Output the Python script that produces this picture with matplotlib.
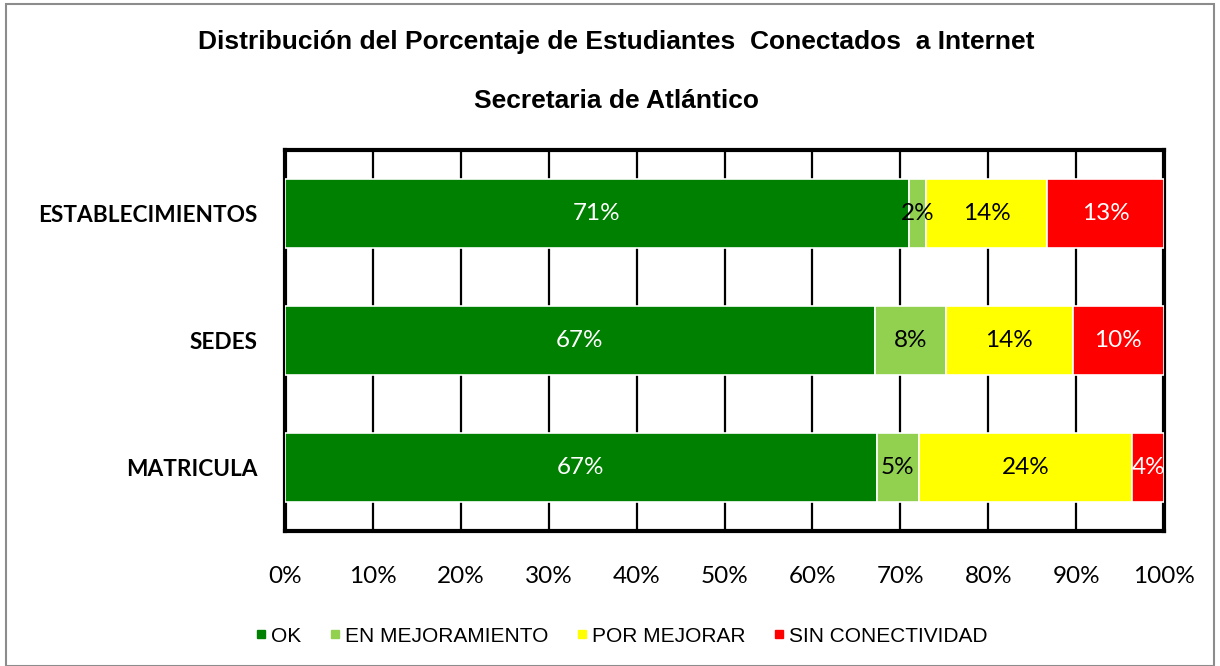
import matplotlib
matplotlib.use("Agg")
import matplotlib.pyplot as plt
from matplotlib.patches import Rectangle
from matplotlib.lines import Line2D
import numpy as np

categories = ["ESTABLECIMIENTOS", "SEDES", "MATRICULA"]
series_names = ["OK", "EN MEJORAMIENTO", "POR MEJORAR", "SIN CONECTIVIDAD"]
ok = [71.0, 67.1, 67.3]
en_mejoramiento = [1.9, 8.1, 4.8]
por_mejorar = [13.8, 14.4, 24.3]
sin_conectividad = [13.3, 10.4, 3.6]
x_ticks = [0, 10, 20, 30, 40, 50, 60, 70, 80, 90, 100]
title1 = "Distribución del Porcentaje de Estudiantes  Conectados  a Internet"
title2 = "Secretaria de Atlántico"

colors = ["#008000", "#92D050", "#FFFF00", "#FF0000"]
label_colors = ["white", "black", "black", "white"]

W, H = 1220, 666
fig = plt.figure(figsize=(W / 100, H / 100), dpi=100)
fig.patch.set_facecolor("white")

# outer border
fig.patches.append(Rectangle((6 / W, 0), (1214 - 6) / W, (H - 4) / H,
                             transform=fig.transFigure, fill=False,
                             edgecolor="#8c8c8c", linewidth=1.5))

ax = fig.add_axes([285 / W, 1 - 531 / H, (1164 - 285) / W, (531 - 150) / H])
ypos = np.arange(len(categories))
data = [ok, en_mejoramiento, por_mejorar, sin_conectividad]
left = np.zeros(len(categories))
bar_h = 0.55
for vals, c, lc, name in zip(data, colors, label_colors, series_names):
    vals = np.array(vals)
    ax.barh(ypos, vals, left=left, height=bar_h, color=c, edgecolor="white",
            linewidth=1.2, zorder=3, label=name)
    for y, l, v in zip(ypos, left, vals):
        ax.text(l + v / 2, y, f"{v:.0f}%", ha="center", va="center",
                color=lc, fontsize=17.5, family="Lato", zorder=4)
    left += vals

ax.set_xlim(0, 100)
ax.set_ylim(len(categories) - 0.5, -0.5)
ax.set_xticks(x_ticks)
ax.set_xticklabels([f"{t}%" for t in x_ticks], fontsize=17.5, family="Lato")
ax.set_yticks(ypos)
ax.set_yticklabels(categories, fontsize=16.3, family="Lato", fontweight="bold")
ax.tick_params(axis="both", length=0)
ax.tick_params(axis="x", pad=25)
ax.tick_params(axis="y", pad=20)
ax.xaxis.grid(True, color="black", linewidth=1.6, zorder=0)
ax.set_axisbelow(True)
for s in ax.spines.values():
    s.set_linewidth(3)
    s.set_color("black")

fig.text(616 / W, 1 - 42 / H, title1, ha="center", va="center",
         fontsize=19, fontweight="bold", family="Liberation Sans")
fig.text(617 / W, 1 - 101 / H, title2, ha="center", va="center",
         fontsize=19, fontweight="bold", family="Liberation Sans")

handles = [Line2D([], [], marker="s", linestyle="none", markersize=6,
                  markerfacecolor=c, markeredgecolor=c) for c in colors]
leg = fig.legend(handles, series_names, loc="center", bbox_to_anchor=(620 / W, 1 - 636 / H),
                 ncol=4, frameon=False, handletextpad=0.1, columnspacing=1.2,
                 handlelength=0.8,
                 prop={"family": ["Liberation Sans Narrow", "Liberation Sans"], "size": 15})

fig.savefig("out.png", dpi=100)
